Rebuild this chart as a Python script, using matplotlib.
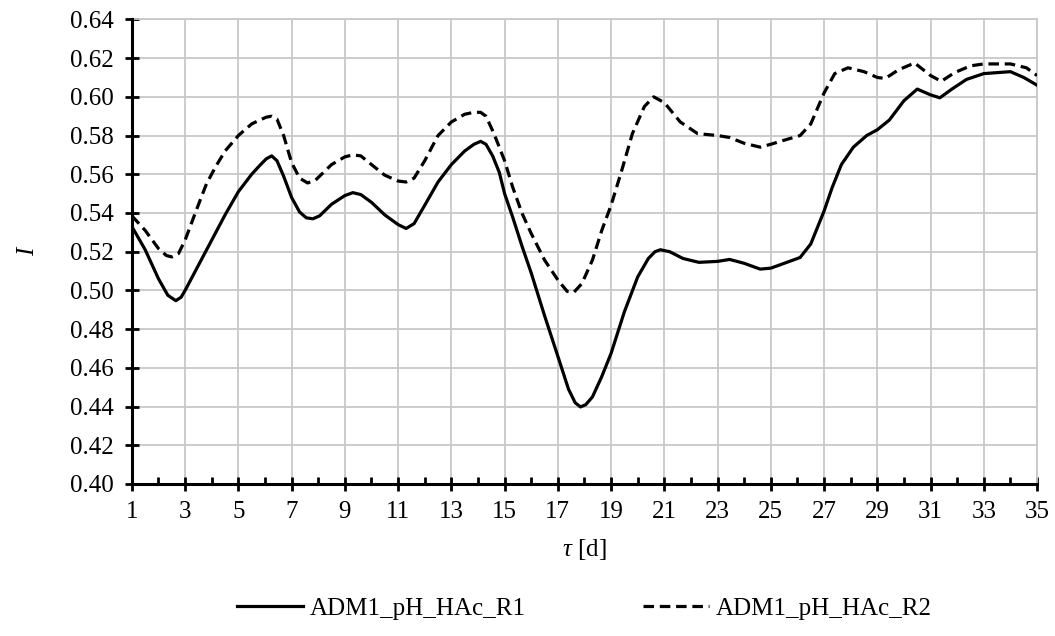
import numpy as np
import matplotlib
matplotlib.use("Agg")
import matplotlib.pyplot as plt
from matplotlib.ticker import MultipleLocator

# data (tau in days, I)
days_r1 = [1.0, 1.5, 2.0, 2.35, 2.65, 2.85, 3.0, 3.5, 4.0, 4.5, 5.0, 5.5, 5.8, 6.05, 6.25, 6.45,
           6.7, 7.0, 7.3, 7.55, 7.8, 8.05, 8.5, 9.0, 9.3, 9.6, 10.0, 10.5, 11.0, 11.3, 11.6,
           12.0, 12.5, 13.0, 13.5, 13.85, 14.1, 14.3, 14.55, 14.8, 15.0, 15.3, 15.65, 16.0,
           16.5, 17.0, 17.4, 17.65, 17.85, 18.05, 18.3, 18.65, 19.0, 19.5, 20.0, 20.4, 20.65,
           20.85, 21.2, 21.7, 22.3, 23.0, 23.45, 24.0, 24.6, 25.0, 25.6, 26.1, 26.5, 27.0,
           27.3, 27.65, 28.1, 28.6, 29.0, 29.45, 30.0, 30.5, 31.0, 31.35, 31.8, 32.35, 33.0,
           34.0, 34.5, 35.0]
i_r1 = [0.533, 0.521, 0.506, 0.4975, 0.4947, 0.4965, 0.500, 0.513, 0.526, 0.539, 0.551,
        0.560, 0.5645, 0.568, 0.5695, 0.567, 0.559, 0.548, 0.5405, 0.5375, 0.537, 0.5385,
        0.5445, 0.549, 0.5505, 0.5495, 0.5455, 0.539, 0.534, 0.532, 0.5345, 0.544, 0.556,
        0.565, 0.572, 0.5755, 0.577, 0.5755, 0.5695, 0.561, 0.550, 0.538, 0.523, 0.509,
        0.487, 0.466, 0.449, 0.442, 0.4398, 0.441, 0.445, 0.4555, 0.4675, 0.489, 0.507,
        0.5165, 0.520, 0.521, 0.520, 0.5165, 0.5145, 0.515, 0.516, 0.514, 0.511, 0.5115,
        0.5145, 0.517, 0.524, 0.541, 0.553, 0.565, 0.574, 0.580, 0.583, 0.588, 0.598, 0.604,
        0.601, 0.5995, 0.604, 0.609, 0.612, 0.613, 0.610, 0.606]

days_r2 = [1.0, 1.5, 2.0, 2.3, 2.5, 2.75, 3.0, 3.45, 3.8, 4.15, 4.5, 5.0, 5.5, 5.8, 6.05,
           6.25, 6.45, 6.7, 7.0, 7.3, 7.6, 7.9, 8.2, 8.5, 9.0, 9.3, 9.6, 10.0, 10.5, 11.0,
           11.3, 11.6, 12.0, 12.5, 13.0, 13.5, 13.85, 14.1, 14.3, 14.6, 15.0, 15.3, 15.65,
           16.0, 16.5, 17.0, 17.35, 17.6, 17.9, 18.3, 18.65, 19.0, 19.4, 19.8, 20.25, 20.6,
           21.0, 21.6, 22.25, 23.0, 23.45, 24.0, 24.6, 25.0, 25.6, 26.1, 26.5, 27.0, 27.4,
           27.9, 28.5, 29.0, 29.3, 29.8, 30.4, 31.0, 31.4, 31.9, 32.5, 33.0, 34.0, 34.6, 35.0]
i_r2 = [0.5385, 0.531, 0.5216, 0.518, 0.5173, 0.519, 0.526, 0.5425, 0.555, 0.564, 0.572,
        0.580, 0.586, 0.588, 0.5895, 0.590, 0.5885, 0.580, 0.566, 0.558, 0.5555, 0.557,
        0.561, 0.565, 0.569, 0.570, 0.5695, 0.565, 0.5595, 0.5565, 0.556, 0.558, 0.567,
        0.580, 0.587, 0.591, 0.592, 0.592, 0.590, 0.581, 0.567, 0.5535, 0.540, 0.5294,
        0.5157, 0.5054, 0.4995, 0.499, 0.5035, 0.5157, 0.531, 0.544, 0.562, 0.581, 0.595,
        0.600, 0.597, 0.587, 0.581, 0.580, 0.579, 0.576, 0.574, 0.5755, 0.578, 0.580, 0.586,
        0.602, 0.612, 0.615, 0.613, 0.610, 0.6095, 0.614, 0.6175, 0.611, 0.608, 0.6125,
        0.616, 0.617, 0.617, 0.615, 0.611]

labels = ["ADM1_pH_HAc_R1", "ADM1_pH_HAc_R2"]

plt.rcParams["font.family"] = ["Liberation Serif", "DejaVu Serif"]
plt.rcParams["mathtext.fontset"] = "custom"
plt.rcParams["mathtext.rm"] = "Liberation Serif"
plt.rcParams["mathtext.it"] = "Liberation Serif:italic"

fig = plt.figure(figsize=(10.55, 6.36), dpi=100)
ax = fig.add_axes([0.125, 0.239, 0.858, 0.7305])

ax.plot(days_r1, i_r1, color="black", lw=2.3, label=labels[0], zorder=3,
        solid_joinstyle="round")
ax.plot(days_r2, i_r2, color="black", lw=2.3, dashes=(3.3, 1.8), label=labels[1], zorder=3,
        dash_joinstyle="round")

ax.set_xlim(1, 35)
ax.set_ylim(0.40, 0.64)
ax.xaxis.set_major_locator(MultipleLocator(2, offset=1))
ax.xaxis.set_minor_locator(MultipleLocator(1))
ax.yaxis.set_major_locator(MultipleLocator(0.02))
ax.yaxis.set_major_formatter(plt.FuncFormatter(lambda v, p: "%.2f" % v))

ax.grid(True, which="major", color="#c8c8c8", lw=1.3, zorder=0)
ax.set_axisbelow(True)

for s in ["top", "right"]:
    ax.spines[s].set_color("#c8c8c8")
    ax.spines[s].set_linewidth(1.3)
for s in ["left", "bottom"]:
    ax.spines[s].set_linewidth(2.2)
    ax.spines[s].set_zorder(4)

ax.tick_params(axis="both", which="major", direction="inout", length=10, width=2.0,
               labelsize=18)
ax.tick_params(axis="y", pad=8)
ax.tick_params(axis="x", pad=7)
ax.tick_params(axis="x", which="minor", direction="in", length=5, width=2.0)
ax.tick_params(axis="y", which="minor", left=False)

ax.set_xlabel(r"$\tau$ [d]", fontsize=18, labelpad=10)
ax.set_ylabel("I", fontsize=18, fontstyle="italic", labelpad=22)

ax.legend(loc="upper center", bbox_to_anchor=(0.5, -0.195), ncol=2, frameon=False,
          fontsize=18, handlelength=2.65, handletextpad=0.25, columnspacing=4.7)

fig.savefig("out.png", dpi=100)
